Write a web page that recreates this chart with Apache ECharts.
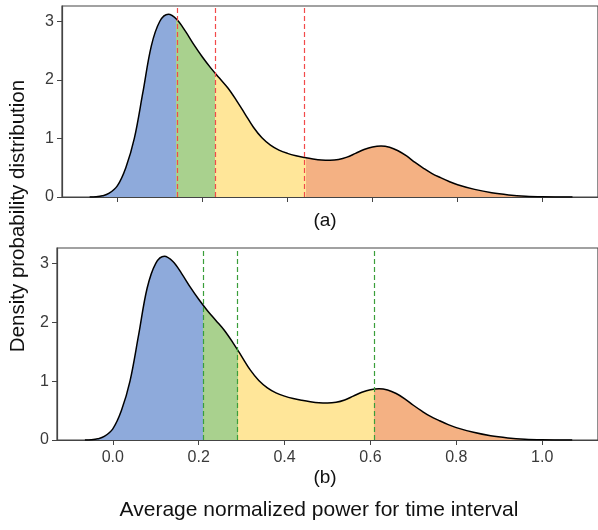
<!DOCTYPE html>
<html lang="en">
<head>
<meta charset="UTF-8">
<title>Density plot</title>
<script src="https://cdn.jsdelivr.net/npm/echarts@6/dist/echarts.min.js"></script>
<style>
  html, body { margin: 0; padding: 0; background: #fff; }
</style>
</head>
<body>
<div id="main" style="width:598px;height:530px;"></div>
<script type="text/javascript">
// density curve (same KDE in both panels)
var xs = [-0.065, -0.05, -0.035, -0.02, 0.0, 0.02, 0.04, 0.06, 0.08, 0.10, 0.12,
          0.14, 0.16, 0.18, 0.20, 0.22, 0.24, 0.26, 0.28, 0.30, 0.32, 0.34, 0.36, 0.38,
          0.40, 0.42, 0.44, 0.46, 0.48, 0.50, 0.52, 0.54, 0.56, 0.58, 0.60, 0.62, 0.64,
          0.66, 0.68, 0.70, 0.72, 0.74, 0.76, 0.78, 0.80, 0.84, 0.88, 0.92, 0.96, 1.00,
          1.04, 1.07];
var density = [0, 0.004, 0.02, 0.06, 0.19, 0.5, 1.0, 1.78, 2.58, 3.0, 3.12,
               3.03, 2.83, 2.60, 2.39, 2.20, 2.03, 1.86, 1.65, 1.42, 1.19, 1.01, 0.885, 0.80,
               0.745, 0.705, 0.675, 0.65, 0.632, 0.627, 0.64, 0.68, 0.745, 0.81, 0.855, 0.872, 0.85,
               0.79, 0.70, 0.59, 0.49, 0.40, 0.33, 0.265, 0.21, 0.13, 0.072, 0.036, 0.014, 0.004,
               0.001, 0];

// split thresholds for each panel
var cutsA = [0.137, 0.229, 0.443];
var cutsB = [0.211, 0.292, 0.609];

var xTicks = [0.0, 0.2, 0.4, 0.6, 0.8, 1.0];
var yTicks = [0, 1, 2, 3];

var fills = ['#8eaadb', '#a9d18e', '#ffe699', '#f4b183'];
var axisCol = '#444';
var font = 'Liberation Sans, Arial, sans-serif';

var pts = xs.map(function (x, i) { return [x, density[i]]; });

function pieces(cuts) {
  return [
    { lt: cuts[0], color: fills[0] },
    { gte: cuts[0], lt: cuts[1], color: fills[1] },
    { gte: cuts[1], lt: cuts[2], color: fills[2] },
    { gte: cuts[2], color: fills[3] }
  ];
}

function xAxisOf(idx, showLabels) {
  return {
    type: 'value', gridIndex: idx, min: -0.13, max: 1.13,
    axisLine: { show: true, onZero: false, lineStyle: { color: axisCol, width: 1.2 } },
    axisTick: { show: true, length: 5, customValues: xTicks, lineStyle: { color: axisCol } },
    axisLabel: {
      show: showLabels, customValues: xTicks, margin: 10, color: '#3a3a3a',
      fontSize: 16, fontFamily: font,
      formatter: function (v) { return v.toFixed(1); }
    },
    splitLine: { show: false }
  };
}

function yAxisOf(idx) {
  return {
    type: 'value', gridIndex: idx, min: 0, max: 3.26,
    axisLine: { show: true, onZero: false, lineStyle: { color: axisCol, width: 1.2 } },
    axisTick: { show: true, length: 5, customValues: yTicks, lineStyle: { color: axisCol } },
    axisLabel: { customValues: yTicks, margin: 8, color: '#3a3a3a', fontSize: 16, fontFamily: font },
    splitLine: { show: false }
  };
}

function panelSeries(idx, cuts, dashCol) {
  return [
    {
      type: 'line', xAxisIndex: idx, yAxisIndex: idx, data: pts,
      smooth: 0.35, symbol: 'none', silent: true,
      lineStyle: { width: 0 }, areaStyle: { opacity: 1 }, z: 2
    },
    {
      type: 'line', xAxisIndex: idx, yAxisIndex: idx, data: pts,
      smooth: 0.35, symbol: 'none', silent: true,
      lineStyle: { color: '#000', width: 1.5 }, itemStyle: { color: '#000' }, z: 4,
      markLine: {
        silent: true, symbol: 'none', label: { show: false },
        lineStyle: { color: dashCol, type: [5, 3], width: 1.2 },
        data: cuts.map(function (c) { return { xAxis: c }; })
      }
    }
  ];
}

var myChart = echarts.init(document.getElementById('main'));

myChart.setOption({
  animation: false,
  grid: [
    { left: 62, top: 6, right: -2, height: 191, show: true, borderColor: axisCol, borderWidth: 1.2 },
    { left: 57, top: 248, right: -2, height: 192, show: true, borderColor: axisCol, borderWidth: 1.2 }
  ],
  xAxis: [xAxisOf(0, false), xAxisOf(1, true)],
  yAxis: [yAxisOf(0), yAxisOf(1)],
  visualMap: [
    { type: 'piecewise', show: false, dimension: 0, seriesIndex: 0, pieces: pieces(cutsA) },
    { type: 'piecewise', show: false, dimension: 0, seriesIndex: 2, pieces: pieces(cutsB) }
  ],
  series: panelSeries(0, cutsA, '#f24a4a').concat(panelSeries(1, cutsB, '#3a9e3a')),
  graphic: [
    { type: 'text', x: 325, y: 221, style: { text: '(a)', font: '19px ' + font, fill: '#111', align: 'center', verticalAlign: 'middle' } },
    { type: 'text', x: 325, y: 478, style: { text: '(b)', font: '19px ' + font, fill: '#111', align: 'center', verticalAlign: 'middle' } },
    { type: 'text', x: 319, y: 510, style: { text: 'Average normalized power for time interval', font: '21px ' + font, fill: '#111', align: 'center', verticalAlign: 'middle' } },
    { type: 'text', x: 18, y: 216, rotation: Math.PI / 2, style: { text: 'Density probability distribution', font: '20.5px ' + font, fill: '#111', align: 'center', verticalAlign: 'middle' } }
  ]
});
</script>
</body>
</html>
